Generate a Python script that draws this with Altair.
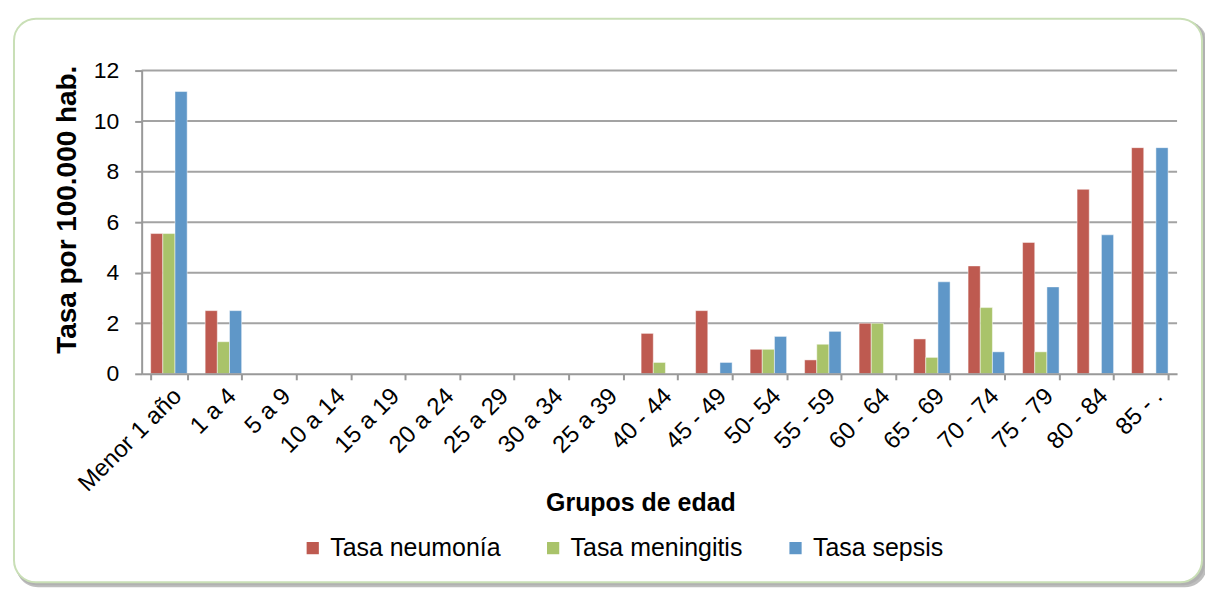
import altair as alt
import pandas as pd

categories = ["Menor 1 año", "1 a 4", "5 a 9", "10 a 14", "15 a 19", "20 a 24",
              "25 a 29", "30 a 34", "25 a 39", "40 - 44", "45 - 49", "50- 54",
              "55 - 59", "60 - 64", "65 - 69", "70 - 74", "75 - 79", "80 - 84", "85 - ."]
series = ["Tasa neumonía", "Tasa meningitis", "Tasa sepsis"]
neumonia = [5.55, 2.5, 0, 0, 0, 0, 0, 0, 0, 1.6, 2.5, 0.97, 0.55, 2.0, 1.38, 4.27, 5.2, 7.3, 8.95]
meningitis = [5.55, 1.27, 0, 0, 0, 0, 0, 0, 0, 0.45, 0, 0.97, 1.17, 2.0, 0.65, 2.62, 0.87, 0, 0]
sepsis = [11.17, 2.5, 0, 0, 0, 0, 0, 0, 0, 0, 0.45, 1.48, 1.68, 0, 3.64, 0.87, 3.44, 5.5, 8.95]
colors = ["#BE5A50", "#A9C36A", "#5F97C8"]
y_ticks = [0, 2, 4, 6, 8, 10, 12]

rows = []
for s, vals in zip(series, [neumonia, meningitis, sepsis]):
    for c, v in zip(categories, vals):
        rows.append({"grupo": c, "serie": s, "valor": v})
df = pd.DataFrame(rows)
grid_df = pd.DataFrame({"valor": y_ticks[1:]})

FONT = "Liberation Sans"
W, H = 1038, 304
one = pd.DataFrame({"k": [0]})

shadow2 = alt.Chart(one).mark_rect(cornerRadius=22, fill="#6f6f6f", opacity=0.45).encode(
    x=alt.value(-126), x2=alt.value(1068), y=alt.value(-50), y2=alt.value(518))
shadow1 = alt.Chart(one).mark_rect(cornerRadius=22, fill="#a8a8a8", opacity=0.6).encode(
    x=alt.value(-127), x2=alt.value(1066), y=alt.value(-51), y2=alt.value(516))
frame = alt.Chart(one).mark_rect(cornerRadius=22, fill="white", stroke="#c9dfb6", strokeWidth=2).encode(
    x=alt.value(-128), x2=alt.value(1063), y=alt.value(-52), y2=alt.value(513))

grid = alt.Chart(grid_df).mark_rule(color="#a3a3a3", strokeWidth=2).encode(
    y=alt.Y("valor:Q"), x=alt.value(0), x2=alt.value(W))

bars = alt.Chart(df).mark_bar(stroke="white", strokeWidth=0.8, strokeOpacity=0.6).encode(
    x=alt.X("grupo:N", sort=categories,
            scale=alt.Scale(paddingInner=0.33, paddingOuter=0.165),
            axis=alt.Axis(title="Grupos de edad", labelAngle=-45, labelFontSize=24,
                          labelFont=FONT, labelColor="black", labelPadding=4,
                          tickBand="extent", tickSize=6, tickColor="#999999", tickWidth=2,
                          domainColor="#999999", domainWidth=2, grid=False, zindex=1,
                          titleFont=FONT, titleFontSize=25, titleFontWeight="bold",
                          titleColor="black", titleX=500, titleY=129,
                          titleAlign="center", titleBaseline="middle")),
    xOffset=alt.XOffset("serie:N", sort=series, scale=alt.Scale(paddingInner=0, paddingOuter=0)),
    y=alt.Y("valor:Q", scale=alt.Scale(domain=[0, 12], nice=False),
            axis=alt.Axis(title="Tasa por 100.000 hab.", values=y_ticks, format="d",
                          labelFontSize=23, labelFont=FONT, labelColor="black",
                          labelPadding=16, tickSize=7, tickColor="#999999", tickWidth=2,
                          domainColor="#999999", domainWidth=2, grid=False, zindex=1,
                          titleFont=FONT, titleFontSize=28, titleFontWeight="bold",
                          titleColor="black", titleX=-74, titleY=139,
                          titleAlign="center", titleBaseline="middle")),
    color=alt.Color("serie:N", sort=series,
                    scale=alt.Scale(domain=series, range=colors),
                    legend=alt.Legend(title=None, orient="none", direction="horizontal",
                                      legendX=159, legendY=466, symbolType="square",
                                      symbolSize=150, symbolStrokeWidth=0,
                                      labelFont=FONT, labelFontSize=25, labelColor="black",
                                      labelOffset=5, columnPadding=40, labelLimit=0)),
)

chart = alt.layer(shadow2, shadow1, frame, grid, bars).properties(
    width=W, height=H,
    autosize=alt.AutoSizeParams(type="none"),
    padding={"left": 134, "top": 62, "right": 28, "bottom": 214},
    background="white",
).configure_view(stroke=None)

chart.save("out.html", embed_options={"renderer": "svg", "actions": False})
